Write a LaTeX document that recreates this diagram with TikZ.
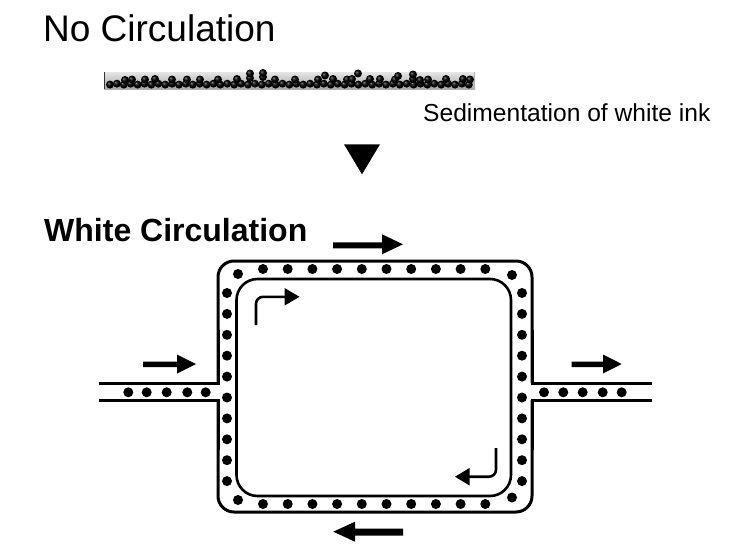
\documentclass[tikz,border=0pt]{standalone}
\usepackage{fontspec}
\setmainfont{Liberation Sans}
\pgfdeclareradialshading{darkball}{\pgfpoint{-10bp}{10bp}}{%
  color(0bp)=(black!45); color(8bp)=(black!85); color(18bp)=(black); color(50bp)=(black)}
\begin{document}
\begin{tikzpicture}[x=1pt,y=-1pt,
  outerline/.style={line width=3pt},
  innerline/.style={line width=2.6pt},
  bentline/.style={line width=2.6pt, rounded corners=7pt},
  dot/.style={fill=black},
  ball/.style={shading=darkball}]
\useasboundingbox (0,0) rectangle (750,554);

% ---------- titles ----------
\node[anchor=base west, inner sep=0pt, font=\fontsize{37}{42}\selectfont] (t1) at (43,41.7) {No Circulation};
\node[anchor=base west, inner sep=0pt, font=\fontsize{24.6}{28}\selectfont] (t2) at (423,121) {Sedimentation of white ink};
\node[anchor=base west, inner sep=0pt, font=\fontsize{32}{36}\selectfont\bfseries] (t3) at (44,241.7) {White Circulation};

% ---------- sediment tube ----------
\shade[top color=gray!20, bottom color=gray!70] (104,72) rectangle (475,89);
\draw[gray!40!black, line width=1.2pt] (104.6,72) -- (104.6,89);
\draw[gray!60, line width=1pt] (474.5,72) -- (474.5,89);
\draw[gray!60, line width=0.6pt] (104,89) -- (475,89);
\foreach \i in {0,...,52} {
  \pgfmathsetmacro{\bx}{110+6.9*\i}
  \pgfmathsetmacro{\by}{84.6-0.9*mod(\i,2)}
  \shade[ball] (\bx,\by) circle (4pt);
}
\foreach \bx/\by in {125/80,132/79.5,145/79.5,155/79,172/79.5,187/79.5,200/79.5,218/79.5,237/79,
  250/78,263/77,275/79.5,295/79.5,318/79.5,333/79,347/79.5,352/79,370/79,380/79,395/79.5,
  413/79,420/80,428/79.5,446/79,463/79,470/79.5} {
  \shade[ball] (\bx,\by) circle (4pt);
}
\foreach \bx/\by in {250/73.5,263/73,358/73.5,413/74.5,325/75.5,398/76} {
  \shade[ball] (\bx,\by) circle (4pt);
}

% ---------- down triangle ----------
\fill (344,144.3) -- (380,144.3) -- (362,174.3) -- cycle;

% ---------- circulation loop ----------
\draw[outerline] (99,383) -- (218,383) -- (218,330);
\draw[outerline, rounded corners=16pt] (218,383) -- (218,261) -- (532,261) -- (532,383);
\draw[outerline] (532,330) -- (532,383) -- (652,383);
\draw[outerline] (99,400) -- (218,400) -- (218,450);
\draw[outerline, rounded corners=16pt] (218,400) -- (218,512) -- (532,512) -- (532,400);
\draw[outerline] (532,450) -- (532,400) -- (652,400);
\draw[innerline, rounded corners=21pt] (236.5,279) rectangle (511,496);

% dots: top and bottom rows
\foreach \i in {0,...,9} {
  \pgfmathsetmacro{\dx}{263+24.7*\i}
  \fill[dot] (\dx,269) circle (5pt);
  \fill[dot] (\dx,504) circle (5pt);
}
% dots: left and right columns
\foreach \i in {0,...,9} {
  \pgfmathsetmacro{\dy}{293+20.9*\i}
  \fill[dot] (227,\dy) circle (5pt);
  \fill[dot] (522,\dy) circle (5pt);
}
% corner dots
\fill[dot] (238,274) circle (5pt);
\fill[dot] (512,275) circle (5pt);
\fill[dot] (238,500) circle (5pt);
\fill[dot] (512,497.5) circle (5pt);
% channel dots
\foreach \dx in {128.3,146.7,166.7,187.3,205.7} { \fill[dot] (\dx,392.3) circle (5pt); }
\foreach \dx in {544,563.3,582.7,602.7,621.7} { \fill[dot] (\dx,392.3) circle (5pt); }

% ---------- fat arrows ----------
\fill (333,242.3) -- (382,242.3) -- (382,234.3) -- (403,244.3) -- (382,254.3) -- (382,248.3) -- (333,248.3) -- cycle;
\fill (403,528.5) -- (355,528.5) -- (355,521.7) -- (333.3,531.7) -- (355,541.7) -- (355,535.5) -- (403,535.5) -- cycle;
\fill (143,361.7) -- (177,361.7) -- (177,354.5) -- (196,364) -- (177,373.5) -- (177,367) -- (143,367) -- cycle;
\fill (571.7,361.7) -- (603,361.7) -- (603,354.5) -- (621.7,364) -- (603,373.5) -- (603,367) -- (571.7,367) -- cycle;

% ---------- bent arrows ----------
\draw[bentline] (256,325) |- (286,296.8);
\fill (284.5,288) -- (299.5,296.8) -- (284.5,305.6) -- cycle;
\draw[bentline] (496,448) |- (468,476.7);
\fill (469.5,468) -- (455,476.7) -- (469.5,485.4) -- cycle;
\end{tikzpicture}
\end{document}
